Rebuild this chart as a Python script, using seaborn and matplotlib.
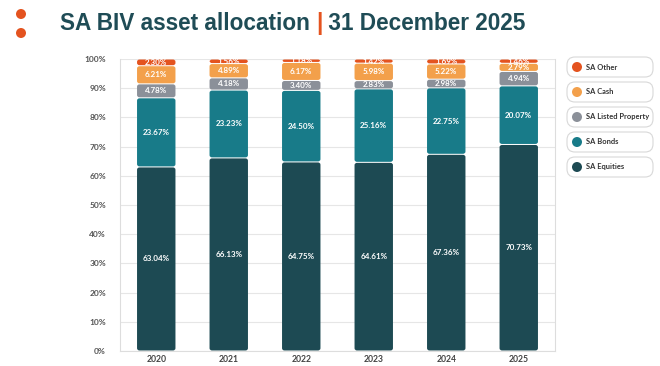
import matplotlib
matplotlib.use("Agg")
import matplotlib.pyplot as plt
import seaborn as sns
import numpy as np
import pandas as pd
from matplotlib.patches import FancyBboxPatch, Circle

years = ["2020", "2021", "2022", "2023", "2024", "2025"]
series_names = ["SA Equities", "SA Bonds", "SA Listed Property", "SA Cash", "SA Other"]
sa_equities = [63.04, 66.13, 64.75, 64.61, 67.36, 70.73]
sa_bonds = [23.67, 23.23, 24.50, 25.16, 22.75, 20.07]
sa_listed_property = [4.78, 4.18, 3.40, 2.83, 2.98, 4.94]
sa_cash = [6.21, 4.89, 6.17, 5.98, 5.22, 2.79]
sa_other = [2.30, 1.56, 1.18, 1.42, 1.69, 1.46]
y_ticks = [0, 10, 20, 30, 40, 50, 60, 70, 80, 90, 100]

colors = ["#1d4a53", "#187b89", "#8b9099", "#f3a04b", "#e4531f"]
series_vals = [sa_equities, sa_bonds, sa_listed_property, sa_cash, sa_other]

sns.set_theme(style="white")
plt.rcParams["font.family"] = ["Lato", "DejaVu Sans"]

fig = plt.figure(figsize=(6.6, 3.66), dpi=100)
ax = fig.add_axes([120 / 660, 1 - 351 / 366, 435 / 660, 292 / 366])

bottom = np.zeros(len(years))
seg_info = []
for name, vals, col in zip(series_names, series_vals, colors):
    df = pd.DataFrame({"year": years, "value": vals})
    n_before = len(ax.patches)
    sns.barplot(data=df, x="year", y="value", color=col, bottom=bottom,
                width=0.53, saturation=1, ax=ax, edgecolor="none", linewidth=0)
    new = ax.patches[n_before:]
    for p, v, b in zip(new, vals, bottom):
        seg_info.append((p, v, b, col))
    bottom = bottom + np.array(vals)

# replace rectangles with rounded boxes, slight gaps
for p, v, b, col in seg_info:
    x, y, w, h = p.get_x(), p.get_y(), p.get_width(), p.get_height()
    gap = 0.35
    fb = FancyBboxPatch((x, y + gap / 2), w, max(h - gap, 0.1),
                        boxstyle="round,pad=0,rounding_size=0.035",
                        mutation_aspect=22, facecolor=col, edgecolor="none", zorder=3)
    p.set_visible(False)
    ax.add_patch(fb)
    ax.text(x + w / 2, y + h / 2, f"{v:.2f}%", ha="center", va="center",
            color="white", fontsize=5.8, fontweight="bold", zorder=4)

ax.set_xlim(-0.5, len(years) - 0.5)
ax.set_ylim(0, 100)
ax.set_yticks(y_ticks)
ax.set_yticklabels([f"{t}%" for t in y_ticks], fontsize=6, fontweight="bold", color="#555555")
ax.set_xticks(range(len(years)))
ax.set_xticklabels(years, fontsize=6.2, fontweight="bold", color="#444444")
ax.set_xticks(np.arange(-0.5, len(years), 1), minor=True)
ax.tick_params(axis="x", which="major", length=0, pad=3)
ax.tick_params(axis="x", which="minor", length=5, color="#cccccc", width=0.8)
ax.tick_params(axis="y", length=0, pad=10)
ax.set_xlabel("")
ax.set_ylabel("")
ax.yaxis.grid(True, color="#e6e6e6", linewidth=0.8, zorder=0)
ax.set_axisbelow(True)
for s in ["left", "bottom", "right"]:
    ax.spines[s].set_color("#dddddd")
    ax.spines[s].set_linewidth(0.8)
ax.spines["top"].set_visible(False)

# title
title_color = "#1f4c56"
tfont = dict(fontsize=16.3, fontweight="bold", family=["Liberation Sans", "DejaVu Sans"],
             va="baseline")
base_y = 1 - 30 / 366
t1 = fig.text(60 / 660, base_y, "SA BIV asset allocation ", color=title_color, **tfont)
fig.canvas.draw()
r = fig.canvas.get_renderer()
bb = t1.get_window_extent(r)
t2 = fig.text(bb.x1 / 660, base_y, "|", color="#e4531f", **tfont)
bb2 = t2.get_window_extent(r)
fig.text(bb2.x1 / 660, base_y, " 31 December 2025", color=title_color, **tfont)

# decorative dots
for cy in [14, 33]:
    fig.patches.append(Circle((21, 366 - cy), 5, transform=None, facecolor="#e4531f",
                              edgecolor="none"))

# legend
leg_items = list(zip(series_names, colors))[::-1]
for i, (name, col) in enumerate(leg_items):
    cy = 67 + i * 25
    box = FancyBboxPatch((567 / 660, 1 - (cy + 10) / 366), 86 / 660, 20 / 366,
                         boxstyle="round,pad=0,rounding_size=0.012",
                         transform=fig.transFigure, facecolor="white",
                         edgecolor="#d8d8d8", linewidth=0.8, mutation_aspect=1.8)
    fig.patches.append(box)
    fig.patches.append(Circle((577, 366 - cy), 5, transform=None, facecolor=col,
                              edgecolor="none"))
    fig.text(586 / 660, 1 - cy / 366, name, fontsize=5.4, fontweight="bold",
             color="#333333", va="center", ha="left")

fig.savefig("out.png", dpi=100)
